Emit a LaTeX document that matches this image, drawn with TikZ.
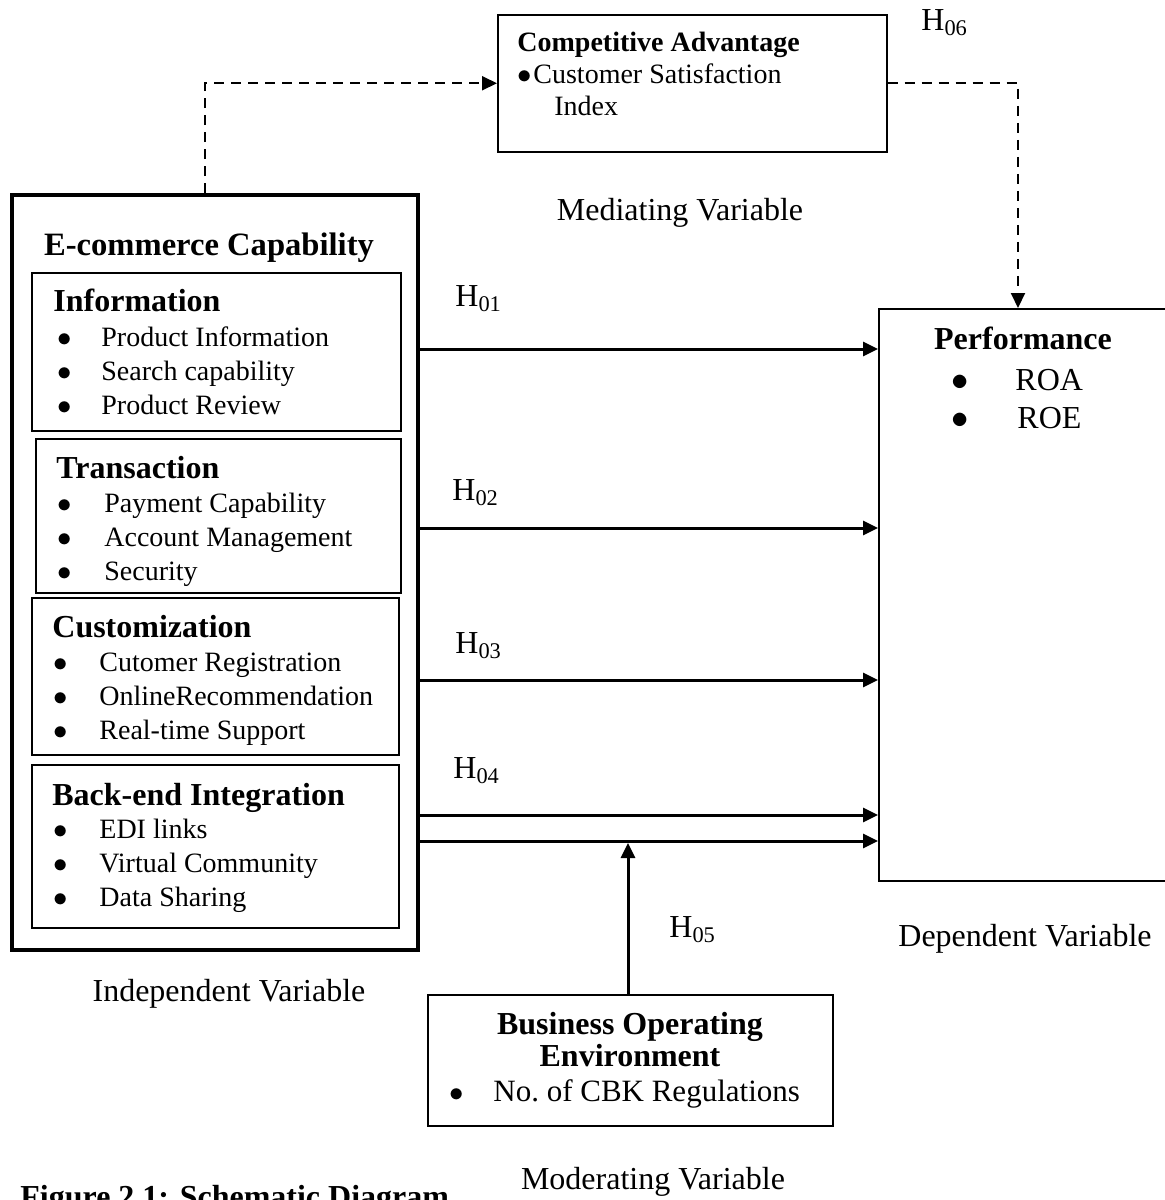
\documentclass[tikz,border=0pt]{standalone}
\usepackage{fontspec}
\setmainfont{Liberation Serif}
\usetikzlibrary{arrows.meta,positioning}
\newcommand{\bulitem}[2][22pt]{\makebox[#1][l]{$\bullet$}#2}

\begin{document}
\begin{tikzpicture}[x=0.5pt,y=-0.5pt,>={Triangle[length=7.5pt,width=7pt]},
  box/.style={draw,line width=0.75pt,inner sep=0pt,anchor=north west},
  head/.style={font=\fontsize{16}{19}\selectfont\bfseries,inner sep=0pt,anchor=base west},
  item/.style={font=\fontsize{14}{17}\selectfont,inner sep=0pt,anchor=base west},
  lab/.style={font=\fontsize{16}{19}\selectfont,inner sep=0pt,anchor=base},
  hyp/.style={font=\fontsize{16}{19}\selectfont,inner sep=0pt,anchor=base west},
  link/.style={->,line width=1.5pt},
  dlink/.style={->,line width=1pt,dash pattern=on 5pt off 3.5pt}]
\useasboundingbox (0,0) rectangle (1165,1200);
\clip (0,0) rectangle (1165,1200);

% boxes
\node[box,minimum width=194.5pt,minimum height=68.5pt] (comp) at (497,14) {};
\node[box,line width=2pt,minimum width=203pt,minimum height=377.5pt] (ecom) at (10,193) {};
\node[box,minimum width=184.5pt,minimum height=79pt] (info) at (31,272) {};
\node[box,minimum width=182.5pt,minimum height=77pt] (trans) at (35,438) {};
\node[box,minimum width=183.5pt,minimum height=78.5pt] (cust) at (31,597) {};
\node[box,minimum width=183.5pt,minimum height=81.5pt] (back) at (31,764) {};
\node[box,minimum width=150pt,minimum height=286pt] (perf) at (878,308) {};
\node[box,minimum width=202.5pt,minimum height=65.5pt] (bus) at (427,994) {};

% mediating variable
\node[head,font=\fontsize{14}{17}\selectfont\bfseries] (comptitle) at (517,51) {Competitive Advantage};
\node[item] (csi) at (517,83) {\bulitem[8pt]{Customer Satisfaction}};
\node[item] (csi2) at (554,115) {Index};

% independent variable
\node[lab,font=\fontsize{16.3}{19}\selectfont\bfseries] (ecomtitle) at (209,255) {E-commerce Capability};
\node[head] (infotitle) at (53,311) {Information};
\node[item] (i1) at (57,346) {\bulitem{Product Information}};
\node[item] (i2) at (57,380) {\bulitem{Search capability}};
\node[item] (i3) at (57,414) {\bulitem{Product Review}};
\node[head] (transtitle) at (56,478) {Transaction};
\node[item] (t1) at (57,512) {\bulitem[23.5pt]{Payment Capability}};
\node[item] (t2) at (57,546) {\bulitem[23.5pt]{Account Management}};
\node[item] (t3) at (57,580) {\bulitem[23.5pt]{Security}};
\node[head] (custtitle) at (52,637) {Customization};
\node[item] (c1) at (53,671) {\bulitem[23pt]{Cutomer Registration}};
\node[item] (c2) at (53,705) {\bulitem[23pt]{OnlineRecommendation}};
\node[item] (c3) at (53,739) {\bulitem[23pt]{Real-time Support}};
\node[head] (backtitle) at (52,805) {Back-end Integration};
\node[item] (b1) at (53,838) {\bulitem[23pt]{EDI links}};
\node[item] (b2) at (53,872) {\bulitem[23pt]{Virtual Community}};
\node[item] (b3) at (53,906) {\bulitem[23pt]{Data Sharing}};

% dependent variable
\node[lab,font=\fontsize{16}{19}\selectfont\bfseries] (perftitle) at (1023,349) {Performance};
\node[hyp] (roa) at (951,390) {\bulitem[32pt]{ROA}};
\node[hyp] (roe) at (951,428) {\bulitem[33pt]{ROE}};

% moderating variable
\node[lab,font=\fontsize{16}{19}\selectfont\bfseries] (bustitle) at (630,1034) {Business Operating};
\node[lab,font=\fontsize{16}{19}\selectfont\bfseries] (bustitle2) at (630,1066) {Environment};
\node[hyp,font=\fontsize{15.5}{18}\selectfont] (cbk) at (449,1101) {\bulitem{No.\ of CBK Regulations}};

% captions
\node[lab] (medlab) at (680,220) {Mediating Variable};
\node[lab] (indlab) at (229,1001) {Independent Variable};
\node[lab] (deplab) at (1025,946) {Dependent Variable};
\node[lab] (modlab) at (653,1189) {Moderating Variable};
\node[head] (fig) at (20,1207) {Figure 2.1: Schematic Diagram};

% hypotheses
\node[hyp] (h1) at (455,306) {H\textsubscript{01}};
\node[hyp] (h2) at (452,500) {H\textsubscript{02}};
\node[hyp] (h3) at (455,653) {H\textsubscript{03}};
\node[hyp] (h4) at (453,778) {H\textsubscript{04}};
\node[hyp] (h5) at (669,937) {H\textsubscript{05}};
\node[hyp] (h6) at (921,30) {H\textsubscript{06}};

% arrows
\draw[link] (ecom.east |- 0,349) -- (perf.west |- 0,349);
\draw[link] (ecom.east |- 0,528) -- (perf.west |- 0,528);
\draw[link] (ecom.east |- 0,680) -- (perf.west |- 0,680);
\draw[link] (ecom.east |- 0,815) -- (perf.west |- 0,815);
\draw[link] (ecom.east |- 0,841) -- (perf.west |- 0,841);
\coordinate (modpt) at (628,843);
\draw[link] (bus.north -| modpt) -- (modpt);
\draw[dlink] (ecom.north -| 205,0) |- (comp.west);
\draw[dlink] (comp.east) -| (perf.north -| 1018,0);
\end{tikzpicture}
\end{document}
